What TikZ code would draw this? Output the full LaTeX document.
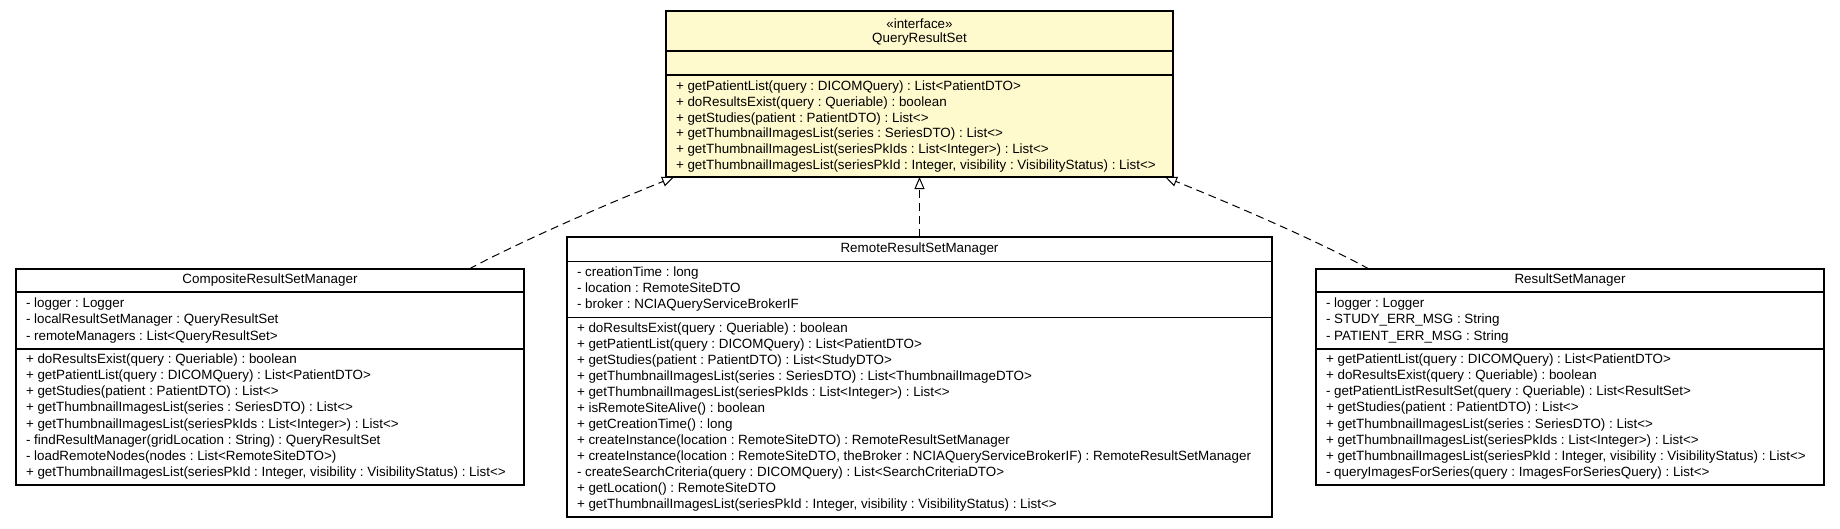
\documentclass[tikz,border=0pt]{standalone}
\usepackage{fontspec}
\setmainfont{Liberation Sans}
\usetikzlibrary{arrows.meta,calc}
\definecolor{ifill}{RGB}{255,250,205}
\frenchspacing
\tikzset{
  umlbox/.style={draw=black, line width=1.1pt, fill=white, rectangle, inner sep=0pt, outer sep=0pt},
  ifacebox/.style={umlbox, fill=ifill},
  sepline/.style={draw=black, line width=1.1pt},
  txt/.style={anchor=base west, inner sep=0pt, outer sep=0pt, font=\frenchspacing\fontsize{13.4}{16}\selectfont},
  ttl/.style={txt, anchor=base},
  realize/.style={draw=black, line width=1pt, dash pattern=on 8pt off 5pt, -{Triangle[open, length=12pt, width=10pt, line width=1pt]}}
}
\begin{document}
\begin{tikzpicture}[x=1pt,y=-1pt]
\useasboundingbox (0,0) rectangle (1840,528);
\fill[white] (0,0) rectangle (1840,528);

% ---------- QueryResultSet (interface) ----------
\node[ifacebox, minimum width=507pt, minimum height=166pt] (qrs) at (919.5,94) {};
\draw[sepline] ($(qrs.north west)+(0,40)$) -- ($(qrs.north east)+(0,40)$);
\draw[sepline] ($(qrs.north west)+(0,64)$) -- ($(qrs.north east)+(0,64)$);
\node[ttl] (qrs-st) at (919.5,28.5) {«interface»};
\node[ttl] (qrs-t) at (919.5,42.2) {QueryResultSet};
\foreach \t [count=\i] in {
  {+ getPatientList(query : DICOMQuery) : List<PatientDTO>},
  {+ doResultsExist(query : Queriable) : boolean},
  {+ getStudies(patient : PatientDTO) : List<>},
  {+ getThumbnailImagesList(series : SeriesDTO) : List<>},
  {+ getThumbnailImagesList(seriesPkIds : List<Integer>) : List<>},
  {+ getThumbnailImagesList(seriesPkId : Integer, visibility : VisibilityStatus) : List<>}}
  \node[txt] (qrs-m\i) at (676,{90.5+15.8*(\i-1)}) {\t};

% ---------- CompositeResultSetManager ----------
\node[umlbox, minimum width=508pt, minimum height=216pt] (crsm) at (270,377) {};
\draw[sepline] ($(crsm.north west)+(0,23)$) -- ($(crsm.north east)+(0,23)$);
\draw[sepline] ($(crsm.north west)+(0,80)$) -- ($(crsm.north east)+(0,80)$);
\node[ttl] (crsm-t) at (270,283) {CompositeResultSetManager};
\foreach \t [count=\i] in {
  {- logger : Logger},
  {- localResultSetManager : QueryResultSet},
  {- remoteManagers : List<QueryResultSet>}}
  \node[txt] (crsm-a\i) at (26,{307.8+16.1*(\i-1)}) {\t};
\foreach \t [count=\i] in {
  {+ doResultsExist(query : Queriable) : boolean},
  {+ getPatientList(query : DICOMQuery) : List<PatientDTO>},
  {+ getStudies(patient : PatientDTO) : List<>},
  {+ getThumbnailImagesList(series : SeriesDTO) : List<>},
  {+ getThumbnailImagesList(seriesPkIds : List<Integer>) : List<>},
  {- findResultManager(gridLocation : String) : QueryResultSet},
  {- loadRemoteNodes(nodes : List<RemoteSiteDTO>)},
  {+ getThumbnailImagesList(seriesPkId : Integer, visibility : VisibilityStatus) : List<>}}
  \node[txt] (crsm-m\i) at (26,{363.8+16.05*(\i-1)}) {\t};

% ---------- RemoteResultSetManager ----------
\node[umlbox, minimum width=705pt, minimum height=280pt] (rrsm) at (919.5,377) {};
\draw[sepline] ($(rrsm.north west)+(0,24.7)$) -- ($(rrsm.north east)+(0,24.7)$);
\draw[sepline] ($(rrsm.north west)+(0,80.3)$) -- ($(rrsm.north east)+(0,80.3)$);
\node[ttl] (rrsm-t) at (919.5,252) {RemoteResultSetManager};
\foreach \t [count=\i] in {
  {- creationTime : long},
  {- location : RemoteSiteDTO},
  {- broker : NCIAQueryServiceBrokerIF}}
  \node[txt] (rrsm-a\i) at (577,{276.2+16*(\i-1)}) {\t};
\foreach \t [count=\i] in {
  {+ doResultsExist(query : Queriable) : boolean},
  {+ getPatientList(query : DICOMQuery) : List<PatientDTO>},
  {+ getStudies(patient : PatientDTO) : List<StudyDTO>},
  {+ getThumbnailImagesList(series : SeriesDTO) : List<ThumbnailImageDTO>},
  {+ getThumbnailImagesList(seriesPkIds : List<Integer>) : List<>},
  {+ isRemoteSiteAlive() : boolean},
  {+ getCreationTime() : long},
  {+ createInstance(location : RemoteSiteDTO) : RemoteResultSetManager},
  {+ createInstance(location : RemoteSiteDTO, theBroker : NCIAQueryServiceBrokerIF) : RemoteResultSetManager},
  {- createSearchCriteria(query : DICOMQuery) : List<SearchCriteriaDTO>},
  {+ getLocation() : RemoteSiteDTO},
  {+ getThumbnailImagesList(seriesPkId : Integer, visibility : VisibilityStatus) : List<>}}
  \node[txt] (rrsm-m\i) at (577,{332.2+16*(\i-1)}) {\t};

% ---------- ResultSetManager ----------
\node[umlbox, minimum width=508pt, minimum height=216pt] (rsm) at (1570,377) {};
\draw[sepline] ($(rsm.north west)+(0,23)$) -- ($(rsm.north east)+(0,23)$);
\draw[sepline] ($(rsm.north west)+(0,80)$) -- ($(rsm.north east)+(0,80)$);
\node[ttl] (rsm-t) at (1570,283) {ResultSetManager};
\foreach \t [count=\i] in {
  {- logger : Logger},
  {- STUDY\_ERR\_MSG : String},
  {- PATIENT\_ERR\_MSG : String}}
  \node[txt] (rsm-a\i) at (1326,{307.8+16.1*(\i-1)}) {\t};
\foreach \t [count=\i] in {
  {+ getPatientList(query : DICOMQuery) : List<PatientDTO>},
  {+ doResultsExist(query : Queriable) : boolean},
  {- getPatientListResultSet(query : Queriable) : List<ResultSet>},
  {+ getStudies(patient : PatientDTO) : List<>},
  {+ getThumbnailImagesList(series : SeriesDTO) : List<>},
  {+ getThumbnailImagesList(seriesPkIds : List<Integer>) : List<>},
  {+ getThumbnailImagesList(seriesPkId : Integer, visibility : VisibilityStatus) : List<>},
  {- queryImagesForSeries(query : ImagesForSeriesQuery) : List<>}}
  \node[txt] (rsm-m\i) at (1326,{363.8+16.05*(\i-1)}) {\t};

% ---------- realizations ----------
\draw[realize] ($(crsm.north west)+(453,0)$) .. controls (510,247) and (585,213) .. ($(qrs.south west)+(8,0)$);
\draw[realize] (rrsm.north) -- (qrs.south);
\draw[realize] ($(rsm.north west)+(53,0)$) .. controls (1329,247) and (1254,213) .. ($(qrs.south east)+(-8,0)$);
\end{tikzpicture}
\end{document}
